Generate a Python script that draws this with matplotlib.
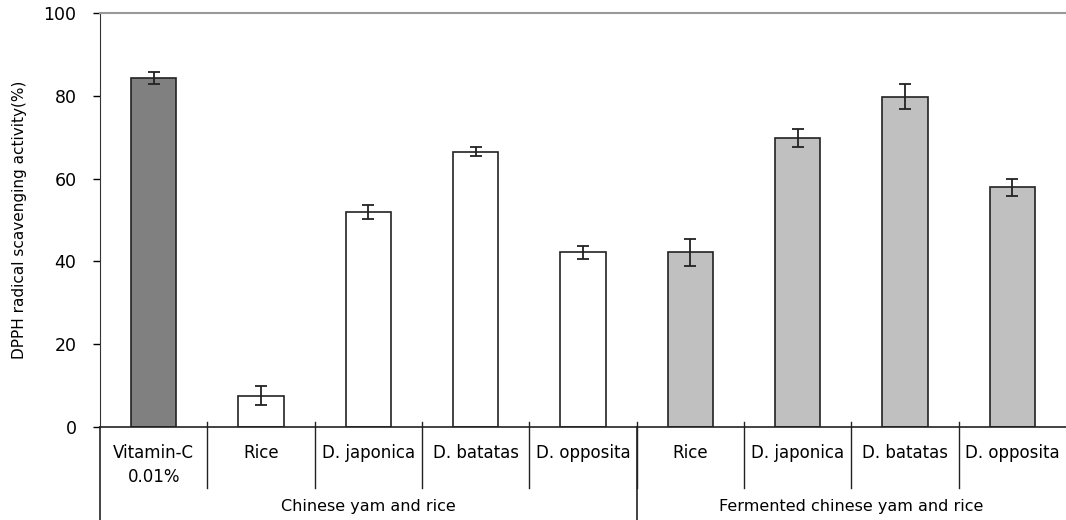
import matplotlib

matplotlib.use("Agg")
import matplotlib.pyplot as plt

# bar labels (bottom row) and group labels
labels = ["Vitamin-C\n0.01%", "Rice", "D. japonica", "D. batatas", "D. opposita",
          "Rice", "D. japonica", "D. batatas", "D. opposita"]
values = [84.3, 7.5, 52.0, 66.5, 42.2, 42.2, 69.8, 79.8, 57.9]
errors = [1.4, 2.3, 1.7, 1.1, 1.5, 3.2, 2.1, 3.0, 2.1]
kinds = ["ref", "raw", "raw", "raw", "raw", "ferm", "ferm", "ferm", "ferm"]
groups = ["Chinese yam and rice", "Fermented chinese yam and rice"]
group_bounds = [(-0.5, 4.5), (4.5, 8.5)]

colors = {"ref": "#808080", "raw": "#ffffff", "ferm": "#c0c0c0"}

plt.rcParams["font.family"] = ["DejaVu Sans"]

fig = plt.figure(figsize=(10.66, 5.2), dpi=100)
ax = fig.add_axes([100 / 1066, 93 / 520, 966 / 1066, 414 / 520])

x = list(range(len(values)))
ax.bar(x, values, width=0.42, color=[colors[k] for k in kinds],
       edgecolor="#222222", linewidth=1.2, zorder=2)
ax.errorbar(x, values, yerr=errors, fmt="none", ecolor="#222222",
            elinewidth=1.3, capsize=4, capthick=1.3, zorder=3)

ax.set_xlim(-0.5, len(values) - 0.5)
ax.set_ylim(0, 100)
ax.set_yticks([0, 20, 40, 60, 80, 100])
ax.tick_params(axis="y", direction="out", length=5, width=1, pad=12, labelsize=12.5)
ax.set_xticks([])
ax.set_ylabel("DPPH radical scavenging activity(%)", fontsize=11, labelpad=12)

ax.spines["right"].set_visible(False)
ax.spines["top"].set_color("#999999")
ax.spines["top"].set_linewidth(1.5)
ax.spines["left"].set_color("#333333")
ax.spines["bottom"].set_color("#222222")
ax.spines["bottom"].set_linewidth(1.2)

trans = ax.get_xaxis_transform()
px = 1 / 414

# separators between bars
for b in range(1, len(values)):
    xb = b - 0.5
    ax.plot([xb, xb], [5 * px, -61 * px], color="#222222", lw=1,
            transform=trans, clip_on=False)

# longer separators at group edges (right edge of the plot is cut off)
for xb in (-0.5, 4.5):
    ax.plot([xb, xb], [0, -95 * px], color="#222222", lw=1.2,
            transform=trans, clip_on=False)

for xi, lab in zip(x, labels):
    ax.text(xi, -17 * px, lab, transform=trans, ha="center", va="top",
            fontsize=12, linespacing=1.4)

for (lo, hi), g in zip(group_bounds, groups):
    ax.text((lo + hi) / 2, -80 * px, g, transform=trans, ha="center",
            va="center", fontsize=11.5)

fig.savefig("out.png", dpi=100, facecolor="white")
